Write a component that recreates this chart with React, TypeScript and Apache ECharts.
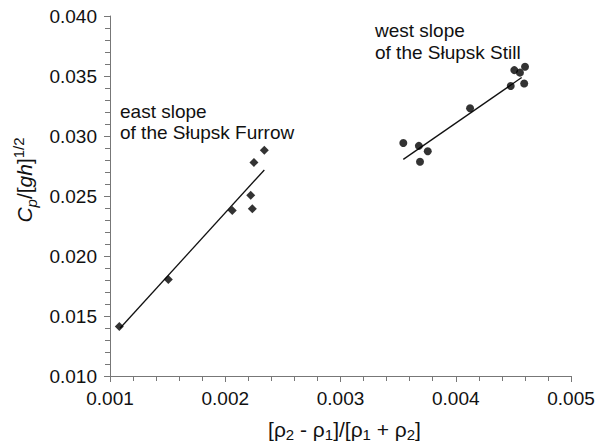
import React, { useEffect, useRef } from "react";
import * as echarts from "echarts";

const eastX = [0.001081, 0.001506, 0.002061, 0.002221, 0.002235, 0.002249, 0.002339];
const eastY = [0.01412, 0.01805, 0.02379, 0.02506, 0.02393, 0.0278, 0.02882];
const westX = [0.003545, 0.00368, 0.003757, 0.00369, 0.004124, 0.004477, 0.004594, 0.004508, 0.004557, 0.004601];
const westY = [0.02942, 0.02918, 0.02873, 0.02786, 0.03231, 0.03417, 0.03437, 0.03549, 0.03528, 0.03577];
const eastFitX = [0.001087, 0.002339];
const eastFitY = [0.01398, 0.02717];
const westFitX = [0.003545, 0.004572];
const westFitY = [0.02805, 0.03487];
const eastLabel = "east slope\nof the Słupsk Furrow";
const westLabel = "west slope\nof the Słupsk Still";

const FONT = "'Liberation Sans', Arial, sans-serif";

function pairs(xs: number[], ys: number[]) {
  return xs.map((x, i) => [x, ys[i]]);
}

export default function App() {
  const ref = useRef<HTMLDivElement>(null);
  useEffect(() => {
    document.body.style.margin = "0";
    if (!ref.current) return;
    const chart = echarts.init(ref.current, null, { renderer: "svg" });
    const axisColor = "#777";
    chart.setOption({
      animation: false,
      backgroundColor: "#fff",
      textStyle: { fontFamily: FONT },
      grid: { left: 110, right: 37, top: 16, bottom: 68 },
      xAxis: {
        type: "value",
        min: 0.001,
        max: 0.005,
        interval: 0.001,
        splitLine: { show: false },
        axisLine: { lineStyle: { color: axisColor, width: 1 } },
        axisTick: { length: 6, lineStyle: { color: axisColor } },
        minorTick: { show: true, splitNumber: 5, length: 5, lineStyle: { color: axisColor } },
        axisLabel: {
          color: "#111",
          fontSize: 19,
          fontFamily: FONT,
          margin: 13,
          formatter: (v: number) => v.toFixed(3),
        },
        name: "{t|[ρ}{s|2}{t| - ρ}{s|1}{t|]/[ρ}{s|1}{t| + ρ}{s|2}{t|]}",
        nameLocation: "middle",
        nameGap: 40,
        nameTextStyle: {
          color: "#111",
          padding: [0, 0, 0, 8],
          rich: {
            t: { fontSize: 21, fontFamily: FONT, color: "#111", lineHeight: 26, verticalAlign: "middle" },
            s: { fontSize: 15, fontFamily: FONT, color: "#111", lineHeight: 26, verticalAlign: "bottom" },
          },
        },
      },
      yAxis: {
        type: "value",
        min: 0.01,
        max: 0.04,
        interval: 0.005,
        splitLine: { show: false },
        axisLine: { lineStyle: { color: axisColor, width: 1 } },
        axisTick: { length: 6, lineStyle: { color: axisColor } },
        minorTick: { show: true, splitNumber: 5, length: 5, lineStyle: { color: axisColor } },
        axisLabel: {
          color: "#111",
          fontSize: 19,
          fontFamily: FONT,
          margin: 13,
          formatter: (v: number) => v.toFixed(3),
        },
        name: "{i|C}{si|p}{t|/[}{i|gh}{t|]}{sup|1/2}",
        nameLocation: "middle",
        nameRotate: 90,
        nameGap: 66,
        nameTextStyle: {
          color: "#111",
          padding: [0, 0, 0, 32],
          rich: {
            t: { fontSize: 21, fontFamily: FONT, color: "#111", lineHeight: 28, verticalAlign: "middle" },
            i: { fontSize: 21, fontFamily: FONT, fontStyle: "italic", color: "#111", lineHeight: 28, verticalAlign: "middle" },
            si: { fontSize: 15, fontFamily: FONT, fontStyle: "italic", color: "#111", lineHeight: 28, verticalAlign: "bottom" },
            sup: { fontSize: 15, fontFamily: FONT, color: "#111", lineHeight: 28, verticalAlign: "top" },
          },
        },
      },
      graphic: [
        {
          type: "text",
          left: 120,
          top: 101,
          style: { text: eastLabel, fontSize: 19, fontFamily: FONT, fill: "#111", lineHeight: 21 },
        },
        {
          type: "text",
          left: 375,
          top: 19,
          style: { text: westLabel, fontSize: 19, fontFamily: FONT, fill: "#111", lineHeight: 22 },
        },
      ],
      series: [
        {
          type: "line",
          data: pairs(eastFitX, eastFitY),
          symbol: "none",
          lineStyle: { color: "#111", width: 1.3 },
          z: 1,
        },
        {
          type: "line",
          data: pairs(westFitX, westFitY),
          symbol: "none",
          lineStyle: { color: "#111", width: 1.3 },
          z: 1,
        },
        {
          type: "scatter",
          data: pairs(eastX, eastY),
          symbol: "diamond",
          symbolSize: 9,
          itemStyle: { color: "#000" },
          z: 3,
        },
        {
          type: "scatter",
          data: pairs(westX, westY),
          symbol: "circle",
          symbolSize: 8,
          itemStyle: { color: "#000" },
          z: 3,
        },
      ],
    });
    return () => chart.dispose();
  }, []);
  return <div ref={ref} style={{ width: 608, height: 447 }} />;
}
